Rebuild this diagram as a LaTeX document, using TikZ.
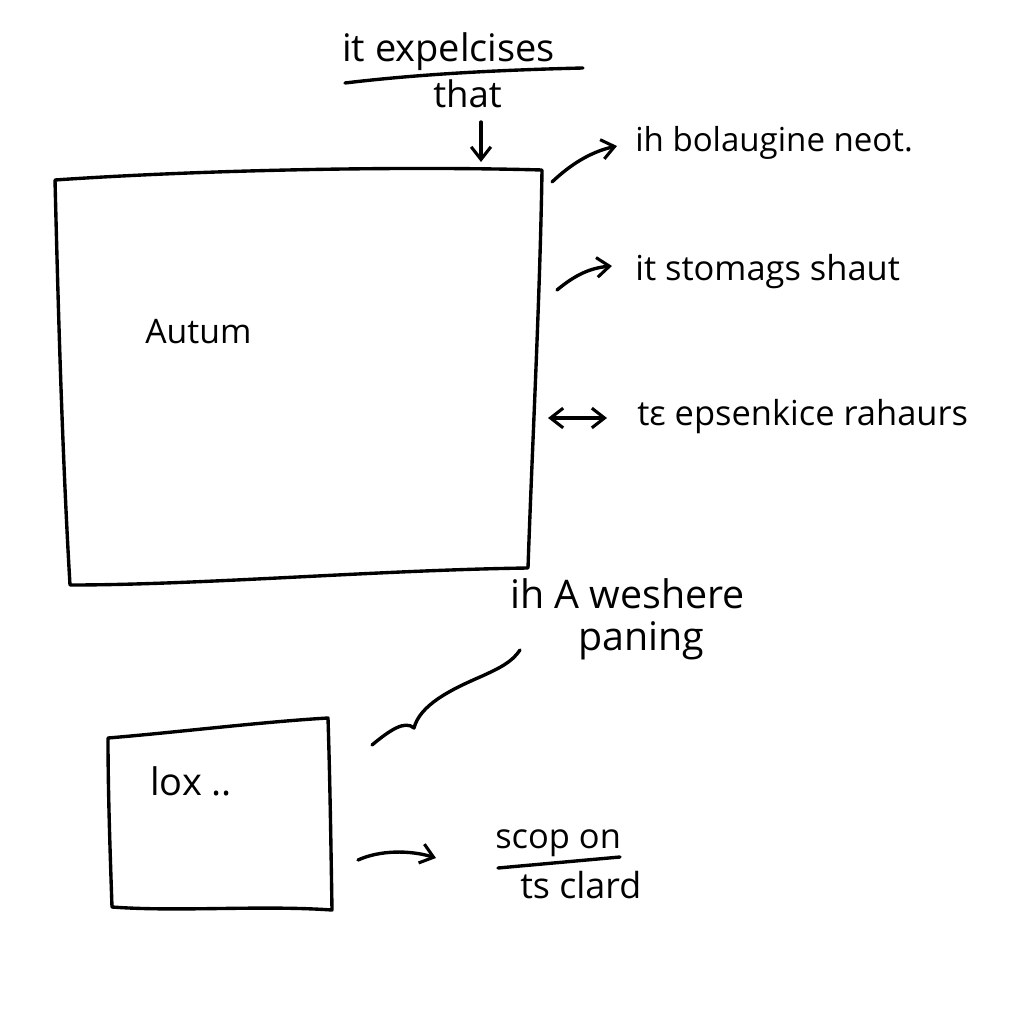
\documentclass[tikz,border=0pt]{standalone}
\usepackage{fontspec}
\setmainfont{Open Sans}
\usetikzlibrary{arrows.meta}
\begin{document}
\begin{tikzpicture}[x=0.025cm,y=-0.025cm,
  ink/.style={line width=2.4pt, line cap=round, line join=round, black},
  arr/.style={ink, -{Straight Barb[length=9pt,width=14pt,line width=2.2pt]}},
  darr/.style={ink, {Straight Barb[length=9pt,width=14pt,line width=2.2pt]}-{Straight Barb[length=9pt,width=14pt,line width=2.2pt]}},
  lbl/.style={inner sep=0pt, anchor=base west, font=\fontsize{22}{26}\selectfont},
  fs/.style={font=\fontsize{#1}{#1}\selectfont}]
\useasboundingbox (0,0) rectangle (1024,1024);
\fill[white] (0,0) rectangle (1024,1024);

% big box
\coordinate (B1) at (55,180);
\coordinate (B2) at (542,170);
\coordinate (B3) at (528,568);
\coordinate (B4) at (70,585);
\draw[ink] (B1) .. controls (200,170) and (400,166) .. (B2)
  .. controls (540,300) and (532,450) .. (B3)
  .. controls (380,570) and (200,585) .. (B4)
  .. controls (62,450) and (58,300) .. cycle;

% small box
\coordinate (S1) at (108,738);
\coordinate (S2) at (328,718);
\coordinate (S3) at (332,910);
\coordinate (S4) at (112,907);
\draw[ink] (S1) .. controls (180,732) and (260,722) .. (S2)
  .. controls (330,780) and (331,850) .. (S3)
  .. controls (260,905) and (180,912) .. (S4)
  .. controls (110,850) and (108,790) .. cycle;

% top label
\node[lbl, fs=27] (t1) at (342,62) {it expelcises};
\coordinate (u1) at (345,83);
\coordinate (u2) at (583,68);
\draw[ink] (u1) .. controls (420,74) and (500,70) .. (u2);
\node[lbl, fs=26] (t2) at (433,108) {that};
\coordinate (d1) at (481,122);
\coordinate (d2) at (481,162);
\draw[arr] (d1) -- (d2);

% right labels
\node[lbl, fs=23.5] (r1) at (635,152) {ih bolaugine neot.};
\coordinate (a1s) at (552,182);
\coordinate (a1e) at (617,146);
\draw[arr] (a1s) .. controls (570,165) and (590,152) .. (a1e);

\node[lbl, fs=24.5] (r2) at (635,280) {it stomags shaut};
\coordinate (a2s) at (557,290);
\coordinate (a2e) at (612,266);
\draw[arr] (a2s) .. controls (575,275) and (590,268) .. (a2e);

\node[lbl, fs=24.5] (r3) at (637,425) {tε epsenkice rahaurs};
\coordinate (a3s) at (548,418);
\coordinate (a3e) at (607,418);
\draw[darr] (a3s) -- (a3e);

% inside labels
\node[lbl, fs=24] (au) at (145,343) {Autum};
\node[lbl, fs=27] (lx) at (150,795) {lox ..};

% lower-right labels
\node[lbl, fs=28] (w1) at (510,608) {ih A weshere};
\node[lbl, fs=28] (w2) at (578,650) {paning};
\coordinate (c1) at (372,745);
\coordinate (c2) at (520,650);
\draw[ink] (c1) .. controls (390,730) and (405,720) .. (414,728)
  .. controls (420,705) and (450,690) .. (480,677)
  .. controls (500,668) and (512,662) .. (c2);

\node[lbl, fs=24.5] (s1) at (495,848) {scop on};
\coordinate (su1) at (498,868);
\coordinate (su2) at (620,857);
\draw[ink] (su1) -- (su2);
\node[lbl, fs=25.5] (s2) at (520,898) {ts clard};
\coordinate (a4s) at (358,860);
\coordinate (a4e) at (436,858);
\draw[arr] (a4s) .. controls (380,850) and (410,850) .. (a4e);
\end{tikzpicture}
\end{document}
